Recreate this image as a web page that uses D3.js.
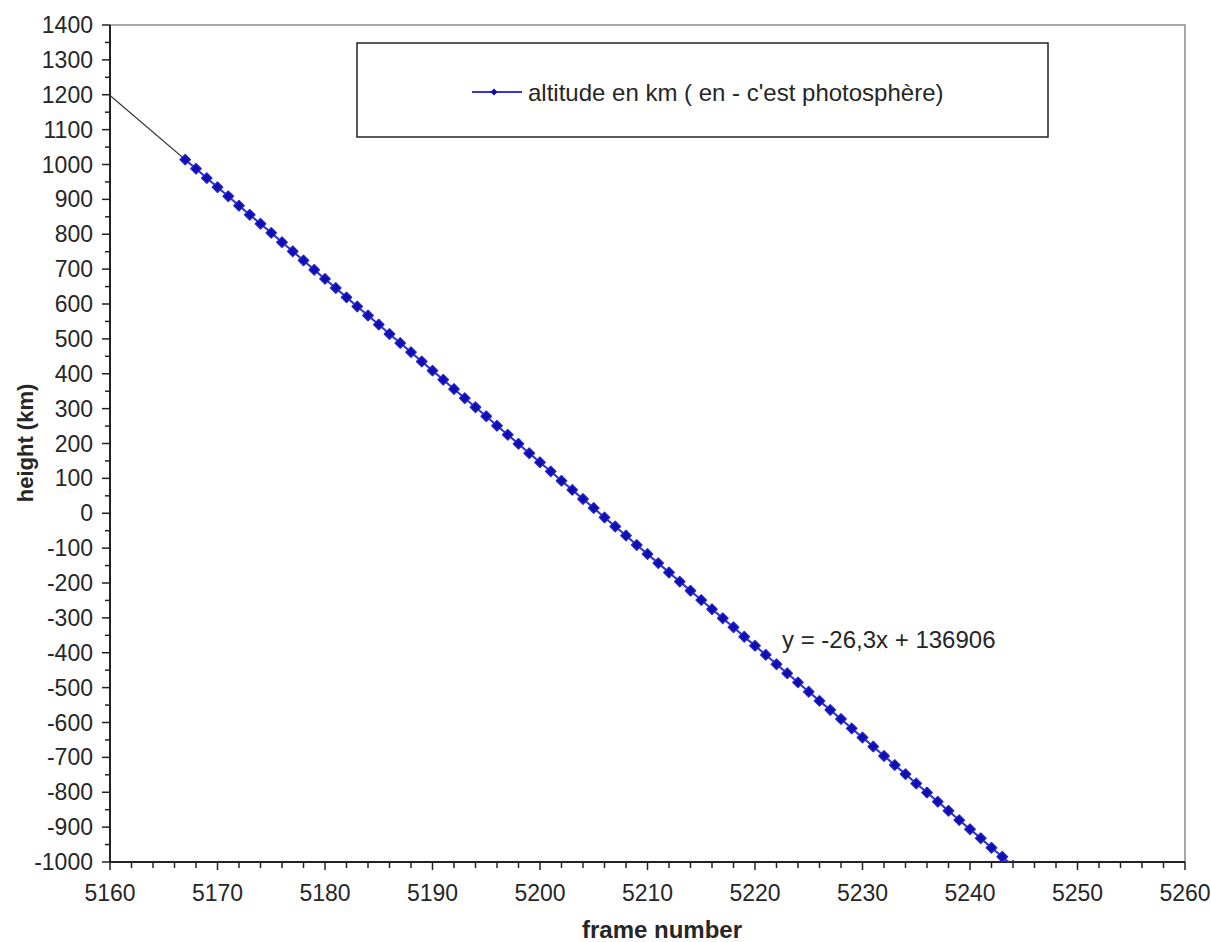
<!DOCTYPE html>
<html>
<head>
<meta charset="utf-8">
<script src="https://cdn.jsdelivr.net/npm/d3@7"></script>
<style>
  html, body { margin: 0; padding: 0; background: #fff; }
  svg { display: block; }
  text { font-family: "Liberation Sans", Arial, sans-serif; fill: #262626; }
</style>
</head>
<body>
<svg id="chart" width="1211" height="942"></svg>
<script>
// ---- data ----
const frames = [5167,5168,5169,5170,5171,5172,5173,5174,5175,5176,5177,5178,5179,5180,
  5181,5182,5183,5184,5185,5186,5187,5188,5189,5190,5191,5192,5193,5194,5195,5196,
  5197,5198,5199,5200,5201,5202,5203,5204,5205,5206,5207,5208,5209,5210,5211,5212,
  5213,5214,5215,5216,5217,5218,5219,5220,5221,5222,5223,5224,5225,5226,5227,5228,
  5229,5230,5231,5232,5233,5234,5235,5236,5237,5238,5239,5240,5241,5242,5243,5244];
const altitudes = [1014,988,961,935,909,882,856,830,804,777,751,725,698,672,
  646,619,593,567,541,514,488,462,435,409,383,356,330,304,278,251,
  225,199,172,146,120,93,67,41,15,-12,-38,-64,-91,-117,-143,-170,
  -196,-222,-249,-275,-301,-327,-354,-380,-406,-433,-459,-485,-512,-538,-564,-590,
  -617,-643,-669,-696,-722,-748,-775,-801,-827,-853,-880,-906,-932,-959,-985,-1011];
const xTicks = [5160,5170,5180,5190,5200,5210,5220,5230,5240,5250,5260];
const yTicks = [-1000,-900,-800,-700,-600,-500,-400,-300,-200,-100,0,100,200,300,400,500,600,700,800,900,1000,1100,1200,1300,1400];
const trendSlope = -26.3;
const trendIntercept = 136906;
const seriesName = "altitude en km ( en - c'est photosphère)";
const trendLabel = "y = -26,3x + 136906";
const xTitle = "frame number";
const yTitle = "height (km)";

// ---- layout ----
const L = 110, R = 1185, T = 25, B = 862;
const svg = d3.select("#chart");
const x = d3.scaleLinear().domain([5160, 5260]).range([L, R]);
const y = d3.scaleLinear().domain([-1000, 1400]).range([B, T]);

// plot border (gray top/right)
svg.append("rect").attr("x", L).attr("y", T).attr("width", R - L).attr("height", B - T)
  .attr("fill", "none").attr("stroke", "#8a8a8a").attr("stroke-width", 1.5);

svg.append("clipPath").attr("id", "clip").append("rect")
  .attr("x", L).attr("y", T).attr("width", R - L).attr("height", B - T);

// ticks
const g = svg.append("g");
d3.range(5160, 5261, 2).forEach(v => {
  const major = v % 10 === 0;
  g.append("line").attr("x1", x(v)).attr("x2", x(v)).attr("y1", B).attr("y2", B + (major ? 8 : 6))
    .attr("stroke", "#222").attr("stroke-width", 1.5);
});
d3.range(-1000, 1401, 50).forEach(v => {
  const major = v % 100 === 0;
  g.append("line").attr("x1", L - (major ? 8 : 5)).attr("x2", L).attr("y1", y(v)).attr("y2", y(v))
    .attr("stroke", "#222").attr("stroke-width", 1.5);
});

// axis lines
svg.append("line").attr("x1", L).attr("x2", R).attr("y1", B).attr("y2", B).attr("stroke", "#222").attr("stroke-width", 2);
svg.append("line").attr("x1", L).attr("x2", L).attr("y1", T).attr("y2", B).attr("stroke", "#222").attr("stroke-width", 2);

// tick labels
svg.append("g").selectAll("text").data(xTicks).join("text")
  .attr("x", d => x(d)).attr("y", B + 39).attr("text-anchor", "middle")
  .attr("font-size", 23).text(d => d);
svg.append("g").selectAll("text").data(yTicks).join("text")
  .attr("x", L - 17).attr("y", d => y(d) + 8).attr("text-anchor", "end")
  .attr("font-size", 23).text(d => d);

// axis titles
svg.append("text").attr("x", 662).attr("y", 938).attr("text-anchor", "middle")
  .attr("font-size", 24).attr("font-weight", "bold").text(xTitle);
svg.append("text").attr("transform", `translate(33,443) rotate(-90)`)
  .attr("text-anchor", "middle").attr("font-size", 22).attr("font-weight", "bold").text(yTitle);

const plot = svg.append("g").attr("clip-path", "url(#clip)");

// trendline
const xEnd = (-1000 - trendIntercept) / trendSlope;
plot.append("line")
  .attr("x1", x(5160)).attr("y1", y(trendSlope * 5160 + trendIntercept))
  .attr("x2", x(xEnd)).attr("y2", y(trendSlope * xEnd + trendIntercept))
  .attr("stroke", "#333").attr("stroke-width", 1.3);

const data = frames.map((f, i) => ({ f, a: altitudes[i] }));
const blue = "#1010b0";
const diamond = r => `M0,${-r}L${r},0L0,${r}L${-r},0Z`;
plot.append("path").datum(data)
  .attr("d", d3.line().x(d => x(d.f)).y(d => y(d.a)))
  .attr("fill", "none").attr("stroke", "#3434e0").attr("stroke-width", 2);
plot.append("g").selectAll("path").data(data).join("path")
  .attr("transform", d => `translate(${x(d.f)},${y(d.a)})`)
  .attr("d", diamond(5.3)).attr("fill", blue).attr("stroke", "#2424cc").attr("stroke-width", 1.2)
  .attr("stroke-linejoin", "round");

// trend label
svg.append("text").attr("x", 782).attr("y", 648).attr("font-size", 24).text(trendLabel);

// legend
svg.append("rect").attr("x", 357).attr("y", 43).attr("width", 691).attr("height", 94)
  .attr("fill", "#fff").attr("stroke", "#222").attr("stroke-width", 1.5);
svg.append("line").attr("x1", 472).attr("x2", 522).attr("y1", 92).attr("y2", 92)
  .attr("stroke", "#3434e0").attr("stroke-width", 2);
svg.append("path").attr("transform", "translate(494,92)").attr("d", diamond(3.5)).attr("fill", blue);
svg.append("text").attr("x", 528).attr("y", 101).attr("font-size", 24).text(seriesName);
</script>
</body>
</html>
